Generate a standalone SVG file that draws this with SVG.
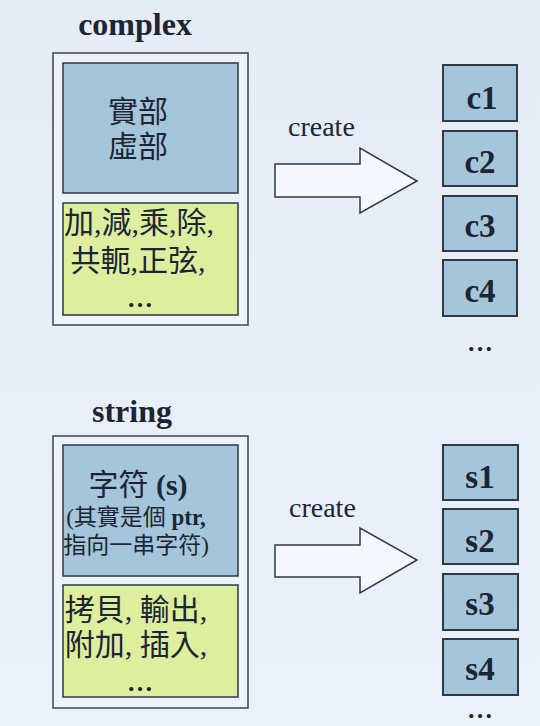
<svg xmlns="http://www.w3.org/2000/svg" width="540" height="726" viewBox="0 0 540 726">
<defs>
<linearGradient id="bg" x1="0" y1="0" x2="0" y2="1">
<stop offset="0" stop-color="#e4ecf7"/>
<stop offset="1" stop-color="#eaf1f9"/>
</linearGradient>
<style>
.outer{fill:#eef3fa;stroke:#3a4552;stroke-width:1.5}
.blue{fill:#a4c5da;stroke:#2e3a46;stroke-width:1.5}
.green{fill:#ddee9f;stroke:#2e3a46;stroke-width:1.5}
.small{fill:#a4c5da;stroke:#2e3a46;stroke-width:2}
.arrow{fill:#f4f7fb;stroke:#2e3a46;stroke-width:1.5}
.title{font-family:"Liberation Serif",serif;font-weight:bold;font-size:32px;fill:#1c2533;text-anchor:middle}
.lbl{font-family:"Liberation Serif",serif;font-weight:bold;font-size:33px;fill:#1c2533;text-anchor:middle}
.cr{font-family:"Liberation Serif",serif;font-size:28px;fill:#1c2533}
.cjk{font-family:"Liberation Serif","Noto Sans CJK TC",serif;font-size:30px;fill:#1c2533;text-anchor:middle}
.cjks{font-family:"Liberation Serif","Noto Sans CJK TC",serif;font-size:23px;fill:#1c2533;text-anchor:middle}
.dots{font-family:"Liberation Serif",serif;font-weight:bold;font-size:26px;fill:#1c2533;text-anchor:middle}
</style>
</defs>
<rect width="540" height="726" fill="url(#bg)"/>

<g id="complex">
<text class="title" x="135" y="35">complex</text>
<rect class="outer" x="53" y="53" width="195" height="272"/>
<rect class="blue" x="63" y="63" width="175" height="130"/>
<text class="cjk" x="138" y="122">實部</text>
<text class="cjk" x="138" y="157">虛部</text>
<rect class="green" x="63" y="203" width="175" height="112"/>
<text class="cjk" x="139" y="233">加,減,乘,除,</text>
<text class="cjk" x="138" y="271">共軛,正弦,</text>
<text class="dots" x="140" y="307">…</text>
</g>

<g id="string">
<text class="title" x="132" y="422">string</text>
<rect class="outer" x="53" y="436" width="195" height="272"/>
<rect class="blue" x="63" y="445" width="175" height="131"/>
<text class="cjk" x="138" y="495">字符 <tspan font-weight="bold">(s)</tspan></text>
<text class="cjks" x="136" y="525" font-size="22">(其實是個 <tspan font-weight="bold">ptr,</tspan></text>
<text class="cjks" x="136" y="553">指向一串字符)</text>
<rect class="green" x="63" y="585" width="175" height="112"/>
<text class="cjk" x="136" y="620">拷貝, 輸出,</text>
<text class="cjk" x="136" y="655">附加, 插入,</text>
<text class="dots" x="140" y="691">…</text>
</g>

<g id="connectors">
<g id="arrow-complex">
<path class="arrow" d="M275,164 H360 V148 L417,181 L360,213 V197 H275 Z"/>
<text class="cr" x="288" y="136">create</text>
</g>
<g id="arrow-string">
<path class="arrow" d="M275,545 H360 V528 L417,560 L360,593 V577 H275 Z"/>
<text class="cr" x="289" y="517">create</text>
</g>
</g>

<g id="c1"><rect class="small" x="443" y="65" width="74" height="56"/><text class="lbl" x="482" y="109">c1</text></g>
<g id="c2"><rect class="small" x="443" y="131" width="74" height="55"/><text class="lbl" x="480" y="173">c2</text></g>
<g id="c3"><rect class="small" x="443" y="196" width="74" height="55"/><text class="lbl" x="480" y="237">c3</text></g>
<g id="c4"><rect class="small" x="443" y="260" width="74" height="56"/><text class="lbl" x="480" y="302">c4</text></g>
<text class="dots" x="480" y="351">…</text>

<g id="s1"><rect class="small" x="443" y="445" width="75" height="55"/><text class="lbl" x="480" y="488">s1</text></g>
<g id="s2"><rect class="small" x="443" y="509" width="75" height="55"/><text class="lbl" x="480" y="552">s2</text></g>
<g id="s3"><rect class="small" x="443" y="574" width="75" height="56"/><text class="lbl" x="480" y="615">s3</text></g>
<g id="s4"><rect class="small" x="443" y="639" width="75" height="56"/><text class="lbl" x="480" y="680">s4</text></g>
<text class="dots" x="480" y="718">…</text>
</svg>
